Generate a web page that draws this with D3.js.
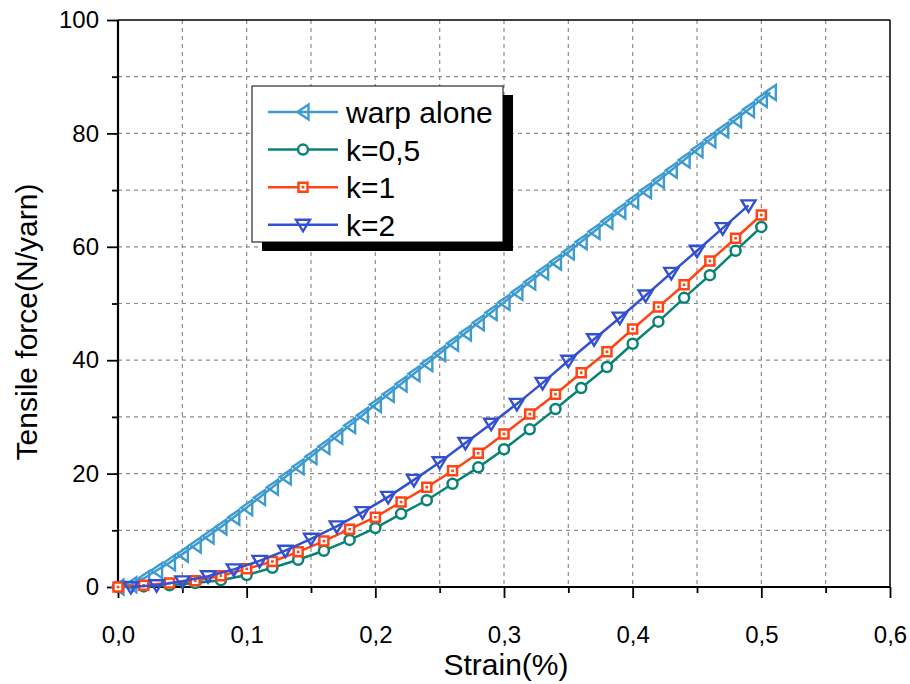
<!DOCTYPE html>
<html>
<head>
<meta charset="utf-8">
<script src="https://cdn.jsdelivr.net/npm/d3@7"></script>
<style>
  html, body { margin: 0; padding: 0; background: #fff; }
  svg text { font-family: "Liberation Sans", Arial, sans-serif; fill: #000; }
</style>
</head>
<body>
<svg id="chart" width="910" height="684"></svg>
<script>
// ---------------- data ----------------
const warpX = [0.00,0.01,0.02,0.03,0.04,0.05,0.06,0.07,0.08,0.09,0.10,0.11,0.12,0.13,0.14,0.15,0.16,0.17,0.18,0.19,0.20,0.21,0.22,0.23,0.24,0.25,0.26,0.27,0.28,0.29,0.30,0.31,0.32,0.33,0.34,0.35,0.36,0.37,0.38,0.39,0.40,0.41,0.42,0.43,0.44,0.45,0.46,0.47,0.48,0.49,0.50,0.507];
const warpY = [0.0,0.4,1.5,2.9,4.3,5.8,7.4,9.0,10.6,12.3,14.0,15.8,17.6,19.4,21.2,23.0,24.8,26.6,28.5,30.3,32.2,34.0,35.8,37.6,39.4,41.2,43.0,44.8,46.6,48.4,50.2,52.0,53.8,55.6,57.3,59.1,60.9,62.7,64.5,66.3,68.1,69.9,71.7,73.5,75.3,77.1,78.9,80.6,82.4,84.2,86.0,87.2];

const evenX = [0.00,0.02,0.04,0.06,0.08,0.10,0.12,0.14,0.16,0.18,0.20,0.22,0.24,0.26,0.28,0.30,0.32,0.34,0.36,0.38,0.40,0.42,0.44,0.46,0.48,0.50];
const k05Y  = [0.0,0.1,0.3,0.7,1.2,2.1,3.4,4.8,6.4,8.3,10.4,12.9,15.3,18.2,21.1,24.3,27.8,31.4,35.1,38.8,42.9,46.8,51.0,55.0,59.3,63.5];
const k1Y   = [0.0,0.3,0.7,1.1,2.0,3.2,4.5,6.2,8.1,10.2,12.3,15.0,17.6,20.5,23.6,27.0,30.5,34.0,37.8,41.5,45.5,49.4,53.3,57.5,61.5,65.6];

const oddX = [0.01,0.03,0.05,0.07,0.09,0.11,0.13,0.15,0.17,0.19,0.21,0.23,0.25,0.27,0.29,0.31,0.33,0.35,0.37,0.39,0.41,0.43,0.45,0.47,0.49];
const k2Y  = [0.0,0.3,1.0,1.9,3.1,4.6,6.4,8.5,10.7,13.2,15.9,18.9,22.0,25.4,28.8,32.3,36.0,39.9,43.7,47.5,51.4,55.4,59.3,63.3,67.3];

const xTicks = [0,0.1,0.2,0.3,0.4,0.5,0.6];
const yTicks = [0,20,40,60,80,100];
const xLabels = ["0,0","0,1","0,2","0,3","0,4","0,5","0,6"];

const seriesNames  = ["warp alone","k=0,5","k=1","k=2"];
const seriesColors = ["#3d9bd0","#0a8276","#ff4414","#3350d2"];
const seriesMarkers = ["triLeft","circle","square","triDown"];

// ---------------- layout ----------------
const svg = d3.select("#chart");
const L = 118, R = 890, T = 20, B = 587;
const x = d3.scaleLinear().domain([0, 0.6]).range([L, R]);
const y = d3.scaleLinear().domain([0, 100]).range([B, T]);

// grid
const gridX = d3.range(1, 12).map(i => i * 0.05);
const gridY = d3.range(1, 10).map(i => i * 10);
const grid = svg.append("g");
grid.selectAll("line.gx").data(gridX).enter().append("line")
  .attr("x1", d => x(d)).attr("x2", d => x(d)).attr("y1", T).attr("y2", B)
  .attr("stroke", "#8c8c8c").attr("stroke-width", 1.2).attr("stroke-dasharray", "4,4");
grid.selectAll("line.gy").data(gridY).enter().append("line")
  .attr("y1", d => y(d)).attr("y2", d => y(d)).attr("x1", L).attr("x2", R)
  .attr("stroke", "#8c8c8c").attr("stroke-width", 1.2).attr("stroke-dasharray", "4,4");

// frame (top and right)
svg.append("line").attr("x1", L).attr("x2", R).attr("y1", T).attr("y2", T).attr("stroke", "#000").attr("stroke-width", 1.5);
svg.append("line").attr("x1", R).attr("x2", R).attr("y1", T).attr("y2", B).attr("stroke", "#000").attr("stroke-width", 1.5);

// axes
const xAxis = d3.axisBottom(x).tickValues(xTicks).tickFormat((d, i) => xLabels[i]).tickSize(11).tickPadding(28);
const xAxisMinor = d3.axisBottom(x).tickValues(d3.range(0, 6).map(i => i * 0.1 + 0.05)).tickFormat("").tickSize(6);
const yAxis = d3.axisLeft(y).tickValues(yTicks).tickSize(11).tickPadding(8);
const yAxisMinor = d3.axisLeft(y).tickValues(d3.range(0, 5).map(i => i * 20 + 10)).tickFormat("").tickSize(6);

function styleAxis(g) {
  g.select(".domain").attr("stroke", "#000").attr("stroke-width", 2.2);
  g.selectAll(".tick line").attr("stroke", "#000").attr("stroke-width", 1.8);
  g.selectAll(".tick text").style("font-size", "24px").attr("fill", "#000");
}
const gx = svg.append("g").attr("transform", `translate(0,${B})`).call(xAxis).call(styleAxis);
gx.select(".domain").attr("d", `M${L},0H${R}`);
svg.append("g").attr("transform", `translate(0,${B})`).call(xAxisMinor).call(styleAxis).select(".domain").remove();
const gy = svg.append("g").attr("transform", `translate(${L},0)`).call(yAxis).call(styleAxis);
gy.select(".domain").attr("d", `M0,${B}V${T}`);
svg.append("g").attr("transform", `translate(${L},0)`).call(yAxisMinor).call(styleAxis).select(".domain").remove();

// axis titles
svg.append("text").attr("x", 506).attr("y", 675).attr("text-anchor", "middle")
  .style("font-size", "30px").text("Strain(%)");
svg.append("text").attr("transform", `translate(37,322) rotate(-90)`).attr("text-anchor", "middle")
  .style("font-size", "30px").text("Tensile force(N/yarn)");

// ---------------- series ----------------
function markerPath(type) {
  switch (type) {
    case "triLeft": return "M-5.5,0L5.5,-7.5L5.5,7.5Z";
    case "triDown": return "M-7,-5L7,-5L0,6.5Z";
    case "square": return "M-4.5,-4.5H4.5V4.5H-4.5Z";
    default: return null;
  }
}
function drawMarker(g, type, color) {
  if (type === "circle") {
    g.append("circle").attr("r", 5).attr("fill", "#fff").attr("stroke", color).attr("stroke-width", 2.5);
  } else if (type === "square") {
    g.append("path").attr("d", markerPath(type)).attr("fill", "#fff").attr("stroke", color).attr("stroke-width", 2.5);
    g.append("rect").attr("x", -1.3).attr("y", -1.3).attr("width", 2.6).attr("height", 2.6).attr("fill", color);
  } else {
    g.append("path").attr("d", markerPath(type)).attr("fill", "none").attr("stroke", color)
      .attr("stroke-width", 2.4).attr("stroke-linejoin", "miter");
  }
}

const series = [
  { xs: warpX, ys: warpY },
  { xs: evenX, ys: k05Y },
  { xs: evenX, ys: k1Y },
  { xs: oddX,  ys: k2Y }
];

const line = d3.line().x(d => x(d[0])).y(d => y(d[1]));
series.forEach((s, i) => {
  const pts = s.xs.map((v, j) => [v, s.ys[j]]);
  const g = svg.append("g");
  g.append("path").datum(pts).attr("d", line).attr("fill", "none")
    .attr("stroke", seriesColors[i]).attr("stroke-width", 2.5);
  g.selectAll("g.m").data(pts).enter().append("g")
    .attr("transform", d => `translate(${x(d[0])},${y(d[1])})`)
    .each(function () { drawMarker(d3.select(this), seriesMarkers[i], seriesColors[i]); });
});

// ---------------- legend ----------------
const lg = svg.append("g");
const lx = 252, ly = 86, lw = 251, lh = 156;
lg.append("rect").attr("x", lx + 10).attr("y", ly + 9).attr("width", lw).attr("height", lh).attr("fill", "#000");
lg.append("rect").attr("x", lx).attr("y", ly).attr("width", lw).attr("height", lh)
  .attr("fill", "#fff").attr("stroke", "#000").attr("stroke-width", 1);
seriesNames.forEach((name, i) => {
  const ry = 112 + i * 37.6;
  lg.append("line").attr("x1", 268).attr("x2", 338).attr("y1", ry).attr("y2", ry)
    .attr("stroke", seriesColors[i]).attr("stroke-width", 2.5);
  const m = lg.append("g").attr("transform", `translate(303,${ry})`);
  drawMarker(m, seriesMarkers[i], seriesColors[i]);
  lg.append("text").attr("x", 346).attr("y", ry + 11).style("font-size", "30px").text(name);
});
</script>
</body>
</html>
